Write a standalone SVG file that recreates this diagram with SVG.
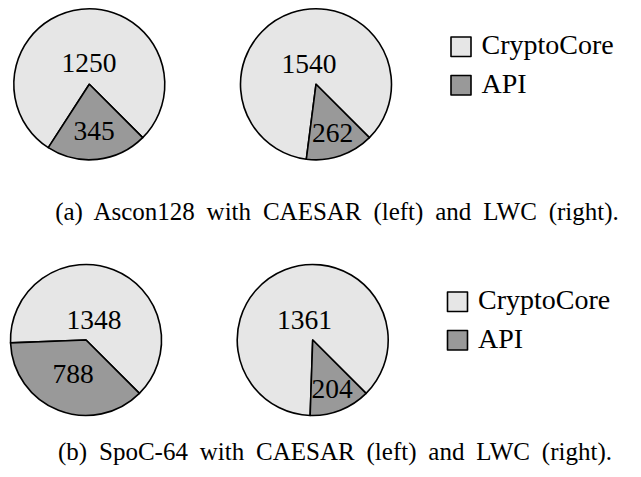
<svg xmlns="http://www.w3.org/2000/svg" width="641" height="477" viewBox="0 0 641 477">
<style>
.core{fill:#e6e6e6;stroke:#000;stroke-width:1.6;stroke-linejoin:round}
.api{fill:#999999;stroke:#000;stroke-width:1.6;stroke-linejoin:round}
.lbl{font-family:"Liberation Serif","Times New Roman",serif;font-size:27.5px;fill:#000;text-anchor:middle}
.leg{font-family:"Liberation Serif","Times New Roman",serif;font-size:28px;fill:#000}
.cap{font-family:"Liberation Serif","Times New Roman",serif;font-size:25px;fill:#000;text-anchor:middle;word-spacing:5.6px}
</style>
<rect width="641" height="477" fill="#fff"/>
<g id="pie-a-left">
<path class="core" d="M89.3 84.3 L142.69 137.69 A75.5 75.5 0 1 0 48.29 147.69 Z"/>
<path class="api" d="M89.3 84.3 L48.29 147.69 A75.5 75.5 0 0 0 142.69 137.69 Z"/>
<text class="lbl" x="89" y="71.5">1250</text>
<text class="lbl" x="94" y="140">345</text>
</g>
<g id="pie-a-right">
<path class="core" d="M316 84.3 L369.39 137.69 A75.5 75.5 0 1 0 306.35 159.2 Z"/>
<path class="api" d="M316 84.3 L306.35 159.2 A75.5 75.5 0 0 0 369.39 137.69 Z"/>
<text class="lbl" x="309" y="72.5">1540</text>
<text class="lbl" x="332.5" y="141.5">262</text>
</g>
<g id="legend-a">
<rect class="core" x="451" y="37" width="20" height="19.5"/>
<text class="leg" x="481.5" y="53.5">CryptoCore</text>
<rect class="api" x="451" y="75.5" width="20" height="19.5"/>
<text class="leg" x="481.5" y="93">API</text>
</g>
<text id="caption-a" class="cap" x="337" y="220">(a) Ascon128 with CAESAR (left) and LWC (right).</text>
<g id="pie-b-left">
<path class="core" d="M86 340 L139.39 393.39 A75.5 75.5 0 1 0 10.56 342.88 Z"/>
<path class="api" d="M86 340 L10.56 342.88 A75.5 75.5 0 0 0 139.39 393.39 Z"/>
<text class="lbl" x="94" y="328.5">1348</text>
<text class="lbl" x="73" y="382.5">788</text>
</g>
<g id="pie-b-right">
<path class="core" d="M312.7 340 L366.09 393.39 A75.5 75.5 0 1 0 310.16 415.46 Z"/>
<path class="api" d="M312.7 340 L310.16 415.46 A75.5 75.5 0 0 0 366.09 393.39 Z"/>
<text class="lbl" x="304.5" y="328.5">1361</text>
<text class="lbl" x="332" y="397.5">204</text>
</g>
<g id="legend-b">
<rect class="core" x="447.5" y="292" width="20" height="19.5"/>
<text class="leg" x="478" y="308.5">CryptoCore</text>
<rect class="api" x="447.5" y="330.5" width="20" height="19.5"/>
<text class="leg" x="478" y="348">API</text>
</g>
<text id="caption-b" class="cap" x="335" y="460">(b) SpoC-64 with CAESAR (left) and LWC (right).</text>
</svg>
